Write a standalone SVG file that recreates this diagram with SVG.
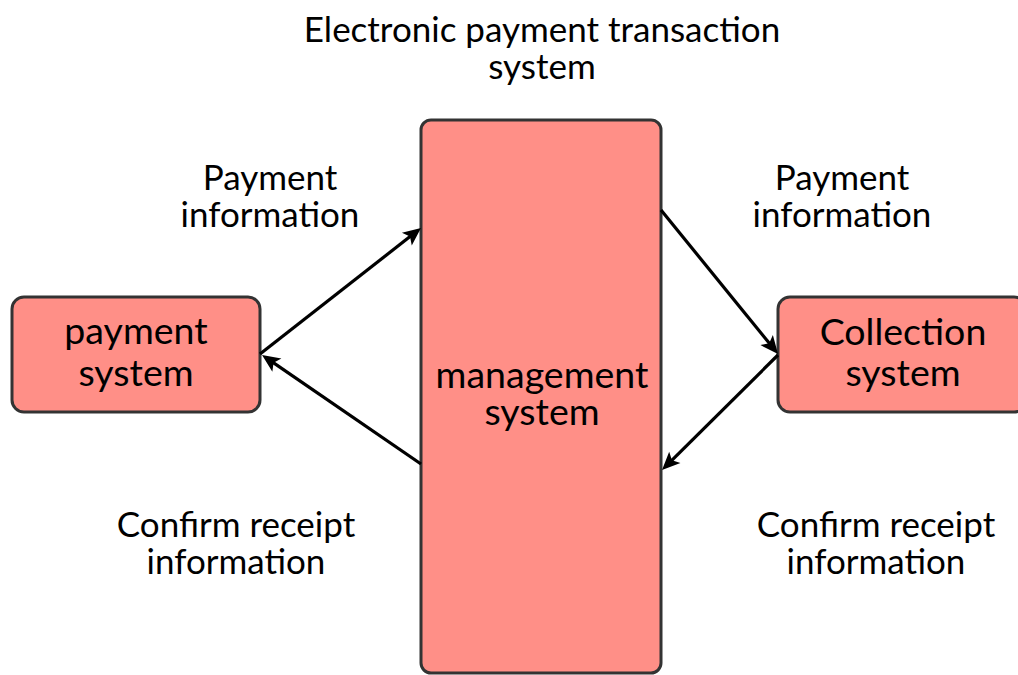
<svg xmlns="http://www.w3.org/2000/svg" width="1018" height="675" viewBox="0 0 1018 675">
  <style>
    .box { fill: #FF8F87; stroke: #333333; stroke-width: 3; }
    .lbl { font-family: Lato, "Liberation Sans", sans-serif; fill: #000000; text-anchor: middle; }
    .edge { font-size: 35px; }
    .node { font-size: 37.5px; }
    .conn { fill: none; stroke: #000000; stroke-width: 3.2; }
  </style>
  <defs>
    <marker id="arrow" markerUnits="userSpaceOnUse" markerWidth="20" markerHeight="18" viewBox="0 0 20 18" refX="12" refY="9" orient="auto">
      <path d="M1,1 L19,9 L1,17 L5,9 Z" fill="#000000"/>
    </marker>
  </defs>
  <rect width="1018" height="675" fill="#FFFFFF"/>

  <g id="title">
    <text class="lbl edge" x="542" y="42">Electronic payment transaction<tspan x="542" dy="37">system</tspan></text>
  </g>

  <g id="management">
    <rect class="box" x="421" y="120" width="240" height="553" rx="10" ry="10"/>
    <text class="lbl node" x="542" y="388">management<tspan x="542" dy="37">system</tspan></text>
  </g>

  <g id="payment">
    <rect class="box" x="12" y="297" width="248" height="115" rx="12" ry="12"/>
    <text class="lbl node" x="136" y="344">payment<tspan x="136" dy="42">system</tspan></text>
  </g>

  <g id="collection">
    <rect class="box" x="778" y="297" width="248" height="115" rx="12" ry="12"/>
    <text class="lbl node" x="903" y="345">Collection<tspan x="903" dy="41">system</tspan></text>
  </g>

  <g id="connectors">
    <path class="conn" d="M260,354 L415.5,232.3" marker-end="url(#arrow)"/>
    <path class="conn" d="M421,464 L267.8,358.9" marker-end="url(#arrow)"/>
    <path class="conn" d="M661,210 L773.6,348.6" marker-end="url(#arrow)"/>
    <path class="conn" d="M778,355 L667,465.1" marker-end="url(#arrow)"/>
  </g>

  <g id="labels">
    <text class="lbl edge" x="270" y="190">Payment<tspan x="270" dy="37">information</tspan></text>
    <text class="lbl edge" x="842" y="190">Payment<tspan x="842" dy="37">information</tspan></text>
    <text class="lbl edge" x="236" y="537">Confirm receipt<tspan x="236" dy="37">information</tspan></text>
    <text class="lbl edge" x="876" y="537">Confirm receipt<tspan x="876" dy="37">information</tspan></text>
  </g>
</svg>
